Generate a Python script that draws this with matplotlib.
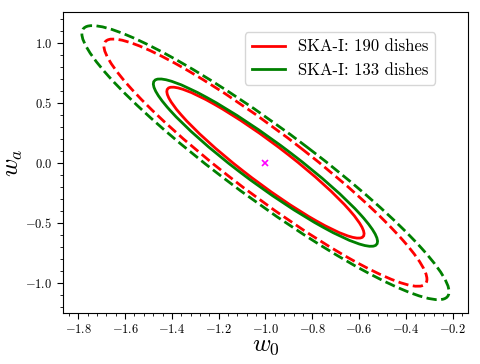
import matplotlib
matplotlib.use("Agg")
import matplotlib.pyplot as plt
import numpy as np
from matplotlib.patches import Ellipse
from matplotlib.ticker import AutoMinorLocator

plt.rcParams['font.family'] = 'serif'
plt.rcParams['font.serif'] = ['cmr10']
plt.rcParams['mathtext.fontset'] = 'cm'
plt.rcParams['axes.formatter.use_mathtext'] = True

# Fiducial and forecast errors (w0, wa)
fiducial = [-1.0, 0.0]
labels = ["SKA-I: 190 dishes", "SKA-I: 133 dishes"]
colors = ["red", "green"]
sigma_w0 = [0.278, 0.316]
sigma_wa = [0.415, 0.46]
rho = [-0.943, -0.942]
# delta chi^2 for 1 and 2 sigma (2 params)
dchi2 = [2.30, 6.17]
styles = ["-", "--"]

fig = plt.figure(figsize=(4.8, 3.64), dpi=100)
ax = fig.add_axes([0.131, 0.140, 0.844, 0.827])

for i in range(len(labels)):
    cov = np.array([[sigma_w0[i]**2, rho[i]*sigma_w0[i]*sigma_wa[i]],
                    [rho[i]*sigma_w0[i]*sigma_wa[i], sigma_wa[i]**2]])
    vals, vecs = np.linalg.eigh(cov)
    angle = np.degrees(np.arctan2(vecs[1, 1], vecs[0, 1]))
    for d, ls in zip(dchi2, styles):
        e = Ellipse(fiducial, 2*np.sqrt(d*vals[1]), 2*np.sqrt(d*vals[0]),
                    angle=angle, fill=False, edgecolor=colors[i],
                    linestyle=ls, linewidth=2)
        ax.add_patch(e)
    ax.plot([], [], color=colors[i], linewidth=2, label=labels[i])

ax.plot(fiducial[0], fiducial[1], 'x', color='magenta', markersize=4, markeredgewidth=1.2)

ax.set_xlim(-1.866, -0.134)
ax.set_ylim(-1.254, 1.256)
ax.set_xticks(np.arange(-1.8, -0.19, 0.2))
ax.set_yticks([-1.0, -0.5, 0.0, 0.5, 1.0])
ax.xaxis.set_minor_locator(AutoMinorLocator(5))
ax.yaxis.set_minor_locator(AutoMinorLocator(5))
ax.tick_params(which='major', direction='out', length=4, labelsize=9)
ax.tick_params(which='minor', direction='out', length=2)

ax.set_xlabel(r"$w_0$", fontsize=18, labelpad=-1)
ax.set_ylabel(r"$w_a$", fontsize=18)
ax.yaxis.set_label_coords(-0.094, 0.5)

ax.legend(loc='upper right', fontsize=12, bbox_to_anchor=(0.94, 0.96))

fig.savefig("out.png", dpi=100)
